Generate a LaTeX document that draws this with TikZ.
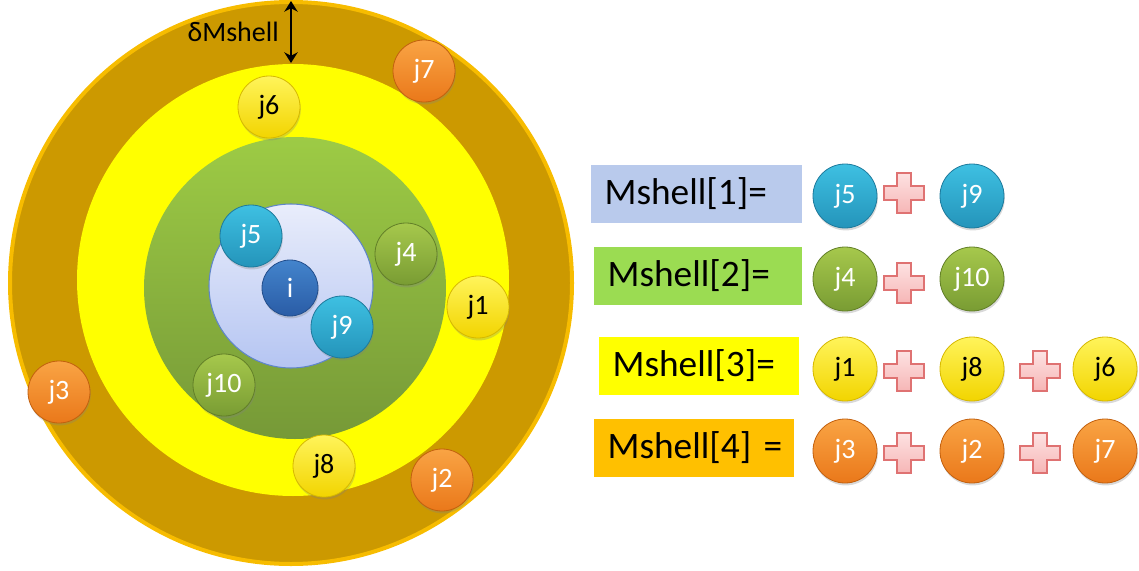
\documentclass[tikz,border=0pt]{standalone}
\usepackage{fontspec}
\setmainfont{Carlito}
\usetikzlibrary{shadows,arrows.meta}

\definecolor{ochre}{HTML}{CC9900}
\definecolor{ochreedge}{HTML}{F7BC00}
\definecolor{shellyellow}{HTML}{FFFF00}
\definecolor{greentop}{HTML}{9DCB45}
\definecolor{greenbot}{HTML}{769937}
\definecolor{bluetop}{HTML}{E9EDFB}
\definecolor{bluebot}{HTML}{B5C5F2}
\definecolor{blueedge}{HTML}{5F86C8}
\definecolor{cyantop}{HTML}{3EC0E2}
\definecolor{cyanbot}{HTML}{2494BA}
\definecolor{cyanedge}{HTML}{1E7A9C}
\definecolor{itop}{HTML}{4384CC}
\definecolor{ibot}{HTML}{2A5CA6}
\definecolor{iedge}{HTML}{234E8C}
\definecolor{olivetop}{HTML}{A6C84C}
\definecolor{olivebot}{HTML}{799C33}
\definecolor{oliveedge}{HTML}{627F28}
\definecolor{yeltop}{HTML}{FFF45A}
\definecolor{yelbot}{HTML}{F2D400}
\definecolor{yeledge}{HTML}{D6B800}
\definecolor{orangetop}{HTML}{F9A444}
\definecolor{orangebot}{HTML}{EA781A}
\definecolor{orangeedge}{HTML}{C2600E}
\definecolor{boxblue}{HTML}{B9CAEC}
\definecolor{boxgreen}{HTML}{9BDC52}
\definecolor{boxorange}{HTML}{FFC000}
\definecolor{plustop}{HTML}{FDE2E2}
\definecolor{plusbot}{HTML}{F6B6B6}
\definecolor{plusedge}{HTML}{DF7272}

\tikzset{
  ball/.style={circle, minimum size=46.5pt, inner sep=0pt, line width=0.6pt,
    font=\fontsize{21}{21}\selectfont,
    drop shadow={opacity=0.3, shadow xshift=0.6pt, shadow yshift=-1.8pt}},
  bigball/.style={minimum size=48pt},
  cyanball/.style={ball, draw=cyanedge, top color=cyantop, bottom color=cyanbot, text=white},
  iball/.style={ball, minimum size=42pt, draw=iedge, top color=itop, bottom color=ibot, text=white},
  oliveball/.style={ball, draw=oliveedge, top color=olivetop, bottom color=olivebot, text=white},
  yelball/.style={ball, draw=yeledge, top color=yeltop, bottom color=yelbot, text=black},
  orangeball/.style={ball, draw=orangeedge, top color=orangetop, bottom color=orangebot, text=white},
  shellbox/.style={anchor=north west, minimum height=43pt, inner xsep=10pt, align=left,
    font=\fontsize{28}{28}\selectfont},
  plussign/.style={draw=plusedge, line width=0.8pt, top color=plustop, bottom color=plusbot},
}

\begin{document}
\begin{tikzpicture}[x=0.75pt, y=0.75pt]
\useasboundingbox (0,0) rectangle (1139,-571);

% 殻
\draw[line width=3pt, draw=ochreedge, fill=ochre] (291,-283) circle (281);
\fill[shellyellow] (293,-280) circle (216);
\shade[top color=greentop, bottom color=greenbot] (295,-288) circle (151);
\draw[blueedge, line width=0.8pt, top color=bluetop, bottom color=bluebot] (291,-286) circle (82);

% 殻の幅
\coordinate (dtop) at (291,-1);
\coordinate (dbot) at (291,-63);
\draw[<->, >={Stealth[length=8pt, width=10pt]}, line width=2.2pt] (dtop) -- (dbot);
\node[anchor=east, font=\fontsize{21}{21}\selectfont, inner sep=0pt] (dlabel) at (279,-32) {δMshell};

% 粒子
\node[iball] (i) at (290,-288) {i};
\node[cyanball] (j5) at (251,-236) {j5};
\node[cyanball] (j9) at (342,-327) {j9};
\node[oliveball] (j4) at (406,-254) {j4};
\node[oliveball] (j10) at (224,-385) {j10};
\node[yelball] (j1) at (478,-307) {j1};
\node[yelball] (j6) at (269,-107) {j6};
\node[yelball] (j8) at (324,-466) {j8};
\node[orangeball] (j7) at (424,-71) {j7};
\node[orangeball] (j3) at (59,-392) {j3};
\node[orangeball] (j2) at (442,-480) {j2};

% 各殻の内訳
\node[shellbox, fill=boxblue, text width=138pt] (m1) at (591,-165) {Mshell[1]=};
\node[cyanball, bigball] (r5) at (845,-196) {j5};
\node[cyanball, bigball] (r9) at (972,-196) {j9};

\node[shellbox, fill=boxgreen, text width=136pt] (m2) at (594,-247) {Mshell[2]=};
\node[oliveball, bigball] (r4) at (845,-279) {j4};
\node[oliveball, bigball] (r10) at (972,-279) {j10};

\node[shellbox, fill=shellyellow, text width=130pt] (m3) at (599,-337) {Mshell[3]=};
\node[yelball, bigball] (r1) at (845,-369) {j1};
\node[yelball, bigball] (r8) at (972,-369) {j8};
\node[yelball, bigball] (r6) at (1105,-369) {j6};

\node[shellbox, fill=boxorange, text width=130pt] (m4) at (594,-419) {\mbox{Mshell[4] =}};
\node[orangeball, bigball] (r3) at (845,-451) {j3};
\node[orangeball, bigball] (r2) at (972,-451) {j2};
\node[orangeball, bigball] (r7) at (1105,-451) {j7};

% 足し算の記号
\foreach \px/\py in {904/193, 904/283, 904/371, 1040/371, 904/453, 1040/453} {
    \draw[plussign, shift={(\px,-\py)}] (-7,20) -- (7,20) -- (7,7) -- (20,7) -- (20,-7)
        -- (7,-7) -- (7,-20) -- (-7,-20) -- (-7,-7) -- (-20,-7) -- (-20,7) -- (-7,7) -- cycle;
}
\end{tikzpicture}
\end{document}
